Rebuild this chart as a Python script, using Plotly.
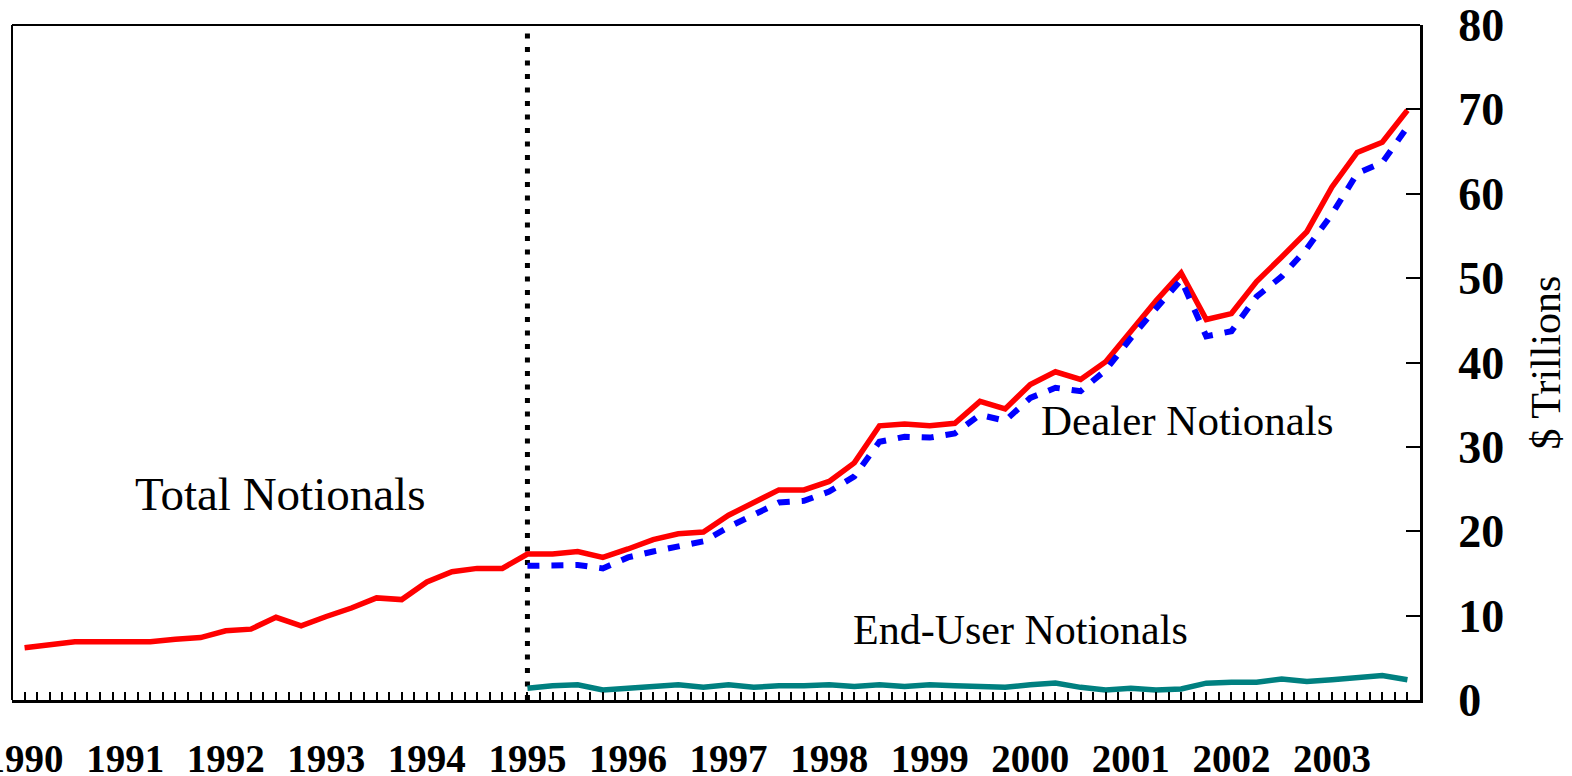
import numpy as np
import plotly.graph_objects as go

# Quarterly dates (year + quarter offset)
years_total = [1990 + q / 4 for q in range(56)]   # 1990Q1 .. 2003Q4
years_split = [1995 + q / 4 for q in range(36)]   # 1995Q1 .. 2003Q4

total_notionals = [
    6.2, 6.5, 6.9, 6.9, 6.9, 6.9, 7.2, 7.4,
    8.2, 8.4, 9.8, 8.8, 9.9, 10.9, 12.1, 11.9,
    14.0, 15.2, 15.6, 15.6,
    17.3, 17.3, 17.6, 16.9, 17.9, 19.0, 19.7, 19.9,
    21.9, 23.4, 24.9, 24.9, 25.9, 28.1, 32.5, 32.7,
    32.5, 32.8, 35.4, 34.5, 37.4, 38.9, 38.0, 40.1,
    43.7, 47.3, 50.6, 45.1, 45.8, 49.6, 52.5, 55.5,
    60.8, 64.9, 66.1, 69.9,
]

dealer_notionals = [
    15.9, 15.9, 16.0, 15.6, 16.9, 17.6, 18.2, 18.8,
    20.5, 22.0, 23.4, 23.6, 24.7, 26.5, 30.6, 31.2,
    31.1, 31.6, 33.8, 33.1, 35.8, 37.0, 36.6, 39.1,
    42.9, 46.4, 49.8, 43.1, 43.7, 47.8, 50.2, 53.5,
    57.6, 62.4, 63.7, 67.9,
]

end_user_notionals = [
    1.4, 1.7, 1.8, 1.2, 1.4, 1.6, 1.8, 1.5,
    1.8, 1.5, 1.7, 1.7, 1.8, 1.6, 1.8, 1.6,
    1.8, 1.7, 1.6, 1.5, 1.8, 2.0, 1.5, 1.2,
    1.4, 1.2, 1.3, 2.0, 2.1, 2.1, 2.5, 2.2,
    2.4, 2.6, 2.9, 2.4,
]

year_labels = [str(y) for y in range(1990, 2004)]
y_tick_values = [0, 10, 20, 30, 40, 50, 60, 70, 80]

SERIF = "Liberation Serif, Times New Roman, serif"

# x ticks: every eighth of a year, labels on whole years
tick_pos = list(np.arange(1990, 2003.76, 0.125))
tick_txt = []
for t in tick_pos:
    if abs(t - round(t)) < 1e-9 and str(int(round(t))) in year_labels:
        tick_txt.append(str(int(round(t))))
    else:
        tick_txt.append("")

fig = go.Figure()

fig.add_trace(go.Scatter(
    x=years_total, y=total_notionals, mode="lines",
    line=dict(color="#FF0000", width=5.5), name="Total Notionals",
))
fig.add_trace(go.Scatter(
    x=years_split, y=dealer_notionals, mode="lines",
    line=dict(color="#0000FF", width=6, dash="12px,12px"), name="Dealer Notionals",
))
fig.add_trace(go.Scatter(
    x=years_split, y=end_user_notionals, mode="lines",
    line=dict(color="#008080", width=5.5), name="End-User Notionals",
))

# vertical dotted separator at 1995
fig.add_shape(type="line", xref="x", yref="y", x0=1995, x1=1995, y0=0, y1=80,
              line=dict(color="black", width=5, dash="5px,8.5px"), layer="below")
# thin top and left frame lines
fig.add_shape(type="line", xref="paper", yref="paper", x0=0, x1=1, y0=1, y1=1,
              line=dict(color="black", width=2))
fig.add_shape(type="line", xref="paper", yref="paper", x0=0, x1=0, y0=0, y1=1,
              line=dict(color="black", width=2))

ann_font = dict(family=SERIF, color="black")
fig.add_annotation(x=1992.535, y=24.4, xref="x", yref="y", text="Total Notionals",
                   showarrow=False, font=dict(size=47, **ann_font))
fig.add_annotation(x=2001.56, y=33.1, xref="x", yref="y", text="Dealer Notionals",
                   showarrow=False, font=dict(size=43, **ann_font))
fig.add_annotation(x=1999.90, y=8.3, xref="x", yref="y", text="End-User Notionals",
                   showarrow=False, font=dict(size=42, **ann_font))
fig.add_annotation(x=1 + (1545 - 1420) / 1408, y=0.5, xref="paper", yref="paper",
                   text="$ Trillions", xanchor="center", yanchor="middle",
                   showarrow=False, textangle=-90, font=dict(size=42, **ann_font))

fig.update_layout(
    width=1572, height=776,
    margin=dict(l=12, r=152, t=25, b=76, autoexpand=False),
    paper_bgcolor="white", plot_bgcolor="white",
    showlegend=False,
    xaxis=dict(
        range=[1989.875, 2003.875], automargin=False,
        tickmode="array", tickvals=tick_pos, ticktext=tick_txt,
        ticks="inside", ticklen=8, tickwidth=2, tickcolor="black",
        showline=True, linewidth=3, linecolor="black",
        showgrid=False, zeroline=False,
        tickfont=dict(family=SERIF, size=39, color="black", weight="bold"),
        ticklabelstandoff=22, ticklabeloverflow="allow",
    ),
    yaxis=dict(
        range=[0, 80], side="right", automargin=False,
        tickmode="array", tickvals=y_tick_values,
        ticktext=[str(v) for v in y_tick_values],
        ticks="inside", ticklen=14, tickwidth=2, tickcolor="black",
        showline=True, linewidth=3, linecolor="black",
        showgrid=False, zeroline=False,
        tickfont=dict(family=SERIF, size=46, color="black", weight="bold"),
        ticklabelstandoff=26, ticklabeloverflow="allow",
    ),
)

fig.write_html(
    "out.html",
    config={"displayModeBar": False},
    post_script="document.body.style.margin='0';document.body.style.padding='0';",
)
